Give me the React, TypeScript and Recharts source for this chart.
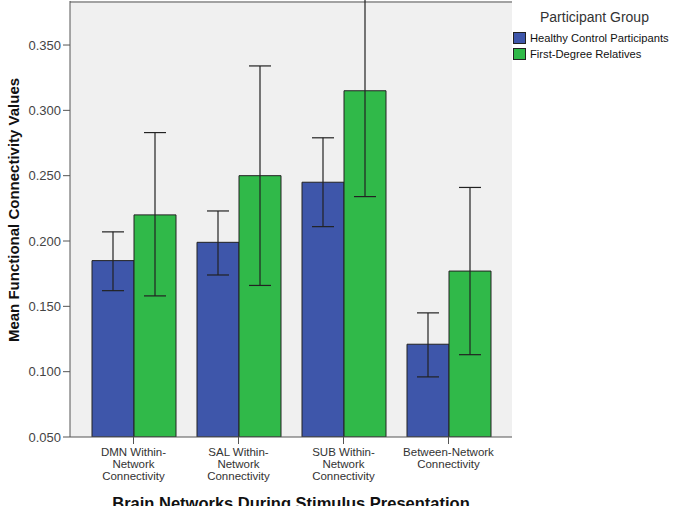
import { BarChart, Bar, XAxis, YAxis, ErrorBar, Legend, CartesianGrid, ReferenceLine } from "recharts";

const categories = ["DMN Within-Network Connectivity", "SAL Within-Network Connectivity", "SUB Within-Network Connectivity", "Between-Network Connectivity"];
const tickLines = [
  ["DMN Within-", "Network", "Connectivity"],
  ["SAL Within-", "Network", "Connectivity"],
  ["SUB Within-", "Network", "Connectivity"],
  ["Between-Network", "Connectivity"],
];

const hcMean = [0.185, 0.199, 0.245, 0.121];
const hcLow = [0.162, 0.174, 0.211, 0.096];
const hcHigh = [0.207, 0.223, 0.279, 0.145];

const fdrMean = [0.220, 0.250, 0.315, 0.177];
const fdrLow = [0.158, 0.166, 0.234, 0.113];
const fdrHigh = [0.283, 0.334, 0.396, 0.241];

const yTicks = [0.05, 0.1, 0.15, 0.2, 0.25, 0.3, 0.35];
const yMin = 0.05;
const yMax = 0.3837;

const groups = [
  { key: "hc", name: "Healthy Control Participants", color: "#3e56aa" },
  { key: "fdr", name: "First-Degree Relatives", color: "#30b949" },
];

const data = categories.map((c, i) => ({
  category: c,
  hc: hcMean[i],
  hcErr: [hcMean[i] - hcLow[i], hcHigh[i] - hcMean[i]],
  fdr: fdrMean[i],
  fdrErr: [fdrMean[i] - fdrLow[i], fdrHigh[i] - fdrMean[i]],
}));

const FONT = "'Liberation Sans', Arial, sans-serif";

// drop the default body margin so the plot frame can sit at the very top like the original
if (typeof document !== "undefined") {
  document.body.style.margin = "0";
}

const XTick = (props: any) => {
  const { x, y, payload } = props;
  const lines = tickLines[categories.indexOf(payload.value)] || [];
  return (
    <text x={x} y={y + 10} textAnchor="middle" fontSize={11.5} fill="#333" fontFamily={FONT}>
      {lines.map((l, i) => (
        <tspan key={i} x={x} dy={i === 0 ? 0 : 12}>{l}</tspan>
      ))}
    </text>
  );
};

const LegendBox = () => (
  <div style={{ fontFamily: FONT }}>
    <div style={{ fontSize: 14, color: "#333", marginLeft: 27, lineHeight: "18px" }}>Participant Group</div>
    <div style={{ marginTop: 4 }}>
      {groups.map((g) => (
        <div key={g.key} style={{ display: "flex", alignItems: "center", height: 16 }}>
          <div style={{ width: 11, height: 10, background: g.color, border: "1px solid #222", marginRight: 4 }} />
          <span style={{ fontSize: 11.2, color: "#111", whiteSpace: "nowrap" }}>{g.name}</span>
        </div>
      ))}
    </div>
  </div>
);

export default function App() {
  return (
    <div style={{ width: 683, height: 506 }}>
      <BarChart
        width={683}
        height={506}
        data={data}
        margin={{ top: 1, right: 171, bottom: 9, left: 0 }}
        barGap={0}
        barSize={42}
      >
        <CartesianGrid fill="#f0f0f0" horizontal={false} vertical={false} />
        <XAxis
          dataKey="category"
          padding={{ left: 11, right: 11 }}
          height={60}
          tick={<XTick />}
          tickSize={7}
          tickMargin={2}
          interval={0}
          axisLine={{ stroke: "#555" }}
          tickLine={{ stroke: "#555" }}
          label={{
            content: (p: any) => {
              const vb = p.viewBox;
              return (
                <text x={vb.x + vb.width / 2} y={vb.y + vb.height + 12} textAnchor="middle" fontSize={16.5} fontWeight="bold" fill="#111" fontFamily={FONT}>
                  Brain Networks During Stimulus Presentation
                </text>
              );
            },
          }}
        />
        <YAxis
          domain={[yMin, yMax]}
          allowDataOverflow
          ticks={yTicks}
          tickFormatter={(v: number) => v.toFixed(3)}
          width={70}
          tickSize={7}
          tickMargin={2}
          tick={{ fontSize: 13, fill: "#444", fontFamily: FONT }}
          axisLine={{ stroke: "#555" }}
          tickLine={{ stroke: "#555" }}
          label={{
            content: () => {
              const cx = 13;
              const cy = 210;
              return (
                <text x={cx} y={cy} transform={`rotate(-90 ${cx} ${cy})`} textAnchor="middle" dominantBaseline="central" fontSize={15} fontWeight="bold" fill="#111" fontFamily={FONT}>
                  Mean Functional Connectivity Values
                </text>
              );
            },
          }}
        />
        <YAxis yAxisId="right" orientation="right" width={0} domain={[yMin, yMax]} allowDataOverflow tick={false} tickLine={false} axisLine={{ stroke: "#888" }} />
        <ReferenceLine y={0.383} stroke="#888" strokeWidth={1.5} />
        <Legend
          layout="horizontal"
          verticalAlign="middle"
          align="center"
          content={<LegendBox />}
          wrapperStyle={{ position: "absolute", top: 8, left: 513, width: 170 }}
        />
        {groups.map((g) => (
          <Bar key={g.key} dataKey={g.key} name={g.name} fill={g.color} stroke="#222" strokeWidth={1} isAnimationActive={false}>
            <ErrorBar dataKey={`${g.key}Err`} width={11} stroke="#222" strokeWidth={1.2} />
          </Bar>
        ))}
      </BarChart>
    </div>
  );
}
